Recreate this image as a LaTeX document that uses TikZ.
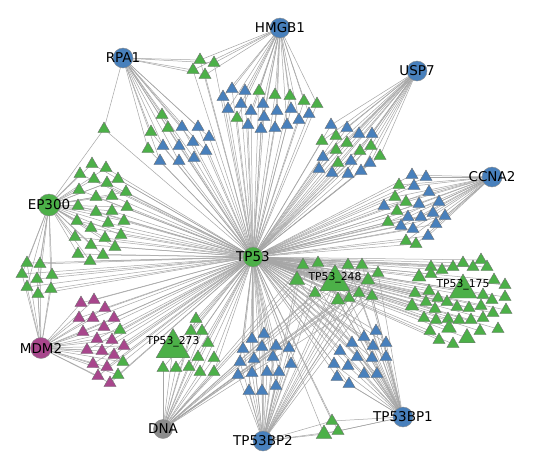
\documentclass[tikz,border=0pt]{standalone}
\usepackage{fontspec}
\setmainfont{DejaVu Sans}
\usetikzlibrary{shapes.geometric,backgrounds}
\definecolor{tg}{RGB}{76,176,72}
\definecolor{tb}{RGB}{72,128,188}
\definecolor{tm}{RGB}{168,70,140}
\definecolor{tgr}{RGB}{140,140,140}
\tikzset{
  edge/.style={draw=black!35, line width=0.5pt},
  tri/.style={regular polygon, regular polygon sides=3, draw=black!55, line width=0.4pt, inner sep=0pt, minimum size=14pt},
  hub/.style={circle, draw=black!45, line width=0.4pt, minimum size=20pt, inner sep=0pt},
  hublabel/.style={font=\fontsize{13.5}{14}\selectfont, text=black, inner sep=0pt},
  biglabel/.style={font=\fontsize{10.8}{11}\selectfont, text=black, inner sep=0pt}
}
\begin{document}
\begin{tikzpicture}[x=1pt,y=-1pt]
\useasboundingbox (0,0) rectangle (540,464);
% hubs
\node[hub,fill=tb] (RPA1) at (123,58) {};
\node[hub,fill=tb] (HMGB1) at (280,28) {};
\node[hub,fill=tb] (USP7) at (417,71) {};
\node[hub,fill=tb] (CCNA2) at (492,177) {};
\node[hub,fill=tg,minimum size=22pt] (EP300) at (49,205) {};
\node[hub,fill=tg] (TP53) at (253,257) {};
\node[hub,fill=tm,minimum size=21pt] (MDM2) at (41,348) {};
\node[hub,fill=tgr,minimum size=19pt] (DNA) at (163,429) {};
\node[hub,fill=tb] (TP53BP2) at (263,441) {};
\node[hub,fill=tb] (TP53BP1) at (403,417) {};
% cluster A (RPA1-HMGB1)
\foreach \x/\y/\c [count=\i] in {200/60/tg,214/63/tg,193/70/tg,205/75/tg}
  \node[tri,fill=\c] (A\i) at (\x,\y) {};
% cluster B (HMGB1)
\foreach \x/\y/\c [count=\i] in {232/89/tb,245/91/tb,259/91/tg,223/97/tb,241/104/tb,263/104/tb,228/109/tb,251/111/tb,237/118/tg,248/125/tb,261/129/tb,264/117/tb,275/95/tg,290/96/tg,304/101/tg,317/104/tg,277/111/tb,291/109/tb,309/114/tb,299/120/tb,287/125/tb,275/128/tb}
  \node[tri,fill=\c] (B\i) at (\x,\y) {};
% cluster C (RPA1)
\foreach \x/\y/\c [count=\i] in {162/115/tg,151/132/tg,168/128/tg,182/127/tb,198/127/tb,209/137/tb,148/149/tg,163/146/tb,179/146/tb,193/142/tb,206/151/tb,160/161/tb,179/161/tb,194/158/tb}
  \node[tri,fill=\c] (C\i) at (\x,\y) {};
% lone triangle
\node[tri,fill=tg] (Z1) at (104,129) {};
% cluster D (EP300)
\foreach \x/\y [count=\i] in {92/164,106/168,80/174,94/179,107/183,118/179,79/190,96/197,112/196,126/192,78/206,96/212,112/211,127/207,77/221,91/228,108/223,124/221,75/237,91/245,105/238,115/247,121/235,78/254,90/261,103/255}
  \node[tri,fill=tg] (D\i) at (\x,\y) {};
% cluster E (left)
\foreach \x/\y [count=\i] in {27/263,40/264,22/274,37/279,52/275,27/287,38/294,51/289}
  \node[tri,fill=tg] (E\i) at (\x,\y) {};
% cluster F (MDM2)
\foreach \x/\y/\c [count=\i] in {81/303/tm,94/300/tm,105/308/tm,79/318/tm,93/318/tm,114/318/tm,83/332/tm,104/327/tm,97/339/tm,112/340/tm,87/350/tm,102/351/tm,114/355/tm,124/346/tm,93/364/tm,107/367/tm,98/376/tm,110/383/tm,120/330/tg,123/362/tg,118/375/tg}
  \node[tri,fill=\c] (F\i) at (\x,\y) {};
% cluster G (TP53_273)
\foreach \x/\y/\s [count=\i] in {173/348/39,196/319/14,191/331/14,202/331/14,208/343/14,198/357/14,214/358/14,163/368/14,176/368/14,189/367/14,200/372/14,214/372/14}
  \node[tri,fill=tg,minimum size=\s pt] (G\i) at (\x,\y) {};
% cluster H (TP53BP2)
\foreach \x/\y [count=\i] in {252/339,264/334,243/349,262/347,276/346,289/348,240/362,254/359,273/357,291/364,238/375,252/373,267/372,279/372,249/391,262/391,276/386}
  \node[tri,fill=tb] (H\i) at (\x,\y) {};
% cluster I (TP53BP1)
\foreach \x/\y [count=\i] in {376/331,364/337,386/343,352/343,373/346,340/351,357/357,372/358,386/357,334/364,348/366,364/374,377/374,337/377,349/384}
  \node[tri,fill=tb] (I\i) at (\x,\y) {};
% cluster J (bottom)
\foreach \x/\y/\s [count=\i] in {332/421/14,338/431/14,324/434/18}
  \node[tri,fill=tg,minimum size=\s pt] (J\i) at (\x,\y) {};
% cluster K (TP53_248)
\foreach \x/\y/\s [count=\i] in {335/282/35,297/280/18,338/300/16,368/280/16,303/265/14,318/263/14,348/265/14,362/265/14,378/273/14,315/293/14,349/298/14,359/293/14,372/296/14}
  \node[tri,fill=tg,minimum size=\s pt] (K\i) at (\x,\y) {};
% cluster L (TP53_175)
\foreach \x/\y/\s [count=\i] in {463/290/32,431/267/14,442/270/14,453/267/14,463/263/14,473/267/14,481/260/14,487/267/14,419/277/16,431/274/14,494/280/14,505/285/14,415/293/14,429/291/14,438/298/14,447/302/14,483/295/14,492/300/14,505/297/14,412/306/16,426/302/14,435/309/14,457/307/14,469/308/14,481/306/14,493/313/14,506/310/14,424/318/14,436/320/14,448/319/14,459/320/14,471/320/14,483/318/14,430/331/14,449/328/17,480/331/14,498/329/14,439/340/14,453/344/14,467/338/19}
  \node[tri,fill=tg,minimum size=\s pt] (L\i) at (\x,\y) {};
% cluster M (CCNA2)
\foreach \x/\y/\c [count=\i] in {412/175/tb,426/177/tb,399/185/tg,414/186/tb,429/192/tb,395/197/tg,406/202/tg,384/206/tb,419/204/tb,439/202/tb,397/211/tg,433/213/tb,445/216/tb,408/217/tb,421/217/tb,388/222/tg,401/226/tb,436/224/tb,413/229/tb,428/236/tb,406/241/tg,416/244/tg}
  \node[tri,fill=\c] (M\i) at (\x,\y) {};
% cluster N (USP7)
\foreach \x/\y/\c [count=\i] in {331/125/tb,347/128/tb,322/141/tg,336/136/tg,359/134/tb,372/134/tb,347/143/tg,371/146/tg,336/150/tg,360/151/tg,323/157/tb,351/161/tb,338/163/tg,380/156/tg,370/163/tb,319/169/tb,332/173/tb,348/174/tb,361/171/tb}
  \node[tri,fill=\c] (N\i) at (\x,\y) {};
% edges
\begin{pgfonlayer}{background}
  \fill[white] (0,0) rectangle (540,464);
  \foreach \i in {1,...,4} {\draw[edge] (RPA1.center) -- (A\i.center); \draw[edge] (HMGB1.center) -- (A\i.center); \draw[edge] (TP53.center) -- (A\i.center);}
  \foreach \i in {1,...,22} {\draw[edge] (HMGB1.center) -- (B\i.center); \draw[edge] (TP53.center) -- (B\i.center);}
  \foreach \i in {1,...,14} {\draw[edge] (RPA1.center) -- (C\i.center); \draw[edge] (TP53.center) -- (C\i.center);}
  \draw[edge] (RPA1.center) -- (Z1.center);
  \draw[edge] (EP300.center) -- (Z1.center);
  \draw[edge] (TP53.center) -- (Z1.center);
  \foreach \i in {1,...,26} {\draw[edge] (EP300.center) -- (D\i.center); \draw[edge] (TP53.center) -- (D\i.center);}
  \foreach \i in {1,...,8} {\draw[edge] (EP300.center) -- (E\i.center); \draw[edge] (MDM2.center) -- (E\i.center); \draw[edge] (TP53.center) -- (E\i.center);}
  \foreach \i in {1,...,21} {\draw[edge] (MDM2.center) -- (F\i.center); \draw[edge] (TP53.center) -- (F\i.center);}
  \foreach \i in {1,...,12} {\draw[edge] (DNA.center) -- (G\i.center); \draw[edge] (TP53.center) -- (G\i.center);}
  \foreach \i in {1,...,17} {\draw[edge] (TP53BP2.center) -- (H\i.center); \draw[edge] (TP53.center) -- (H\i.center);}
  \foreach \i in {1,...,15} {\draw[edge] (TP53BP1.center) -- (I\i.center); \draw[edge] (TP53.center) -- (I\i.center);}
  \foreach \i in {1,...,3} {\draw[edge] (TP53BP2.center) -- (J\i.center); \draw[edge] (TP53BP1.center) -- (J\i.center); \draw[edge] (TP53.center) -- (J\i.center);}
  \foreach \i in {1,...,13} {\draw[edge] (TP53.center) -- (K\i.center); \draw[edge] (DNA.center) -- (K\i.center); \draw[edge] (TP53BP2.center) -- (K\i.center); \draw[edge] (TP53BP1.center) -- (K\i.center);}
  \foreach \i in {1,...,40} {\draw[edge] (TP53.center) -- (L\i.center);}
  \foreach \i in {1,...,22} {\draw[edge] (CCNA2.center) -- (M\i.center); \draw[edge] (TP53.center) -- (M\i.center);}
  \foreach \i in {1,...,19} {\draw[edge] (USP7.center) -- (N\i.center); \draw[edge] (TP53.center) -- (N\i.center);}
\end{pgfonlayer}
% labels
\node[hublabel] (lRPA1) at (RPA1) {RPA1};
\node[hublabel] (lHMGB1) at (HMGB1) {HMGB1};
\node[hublabel] (lUSP7) at (USP7) {USP7};
\node[hublabel] (lCCNA2) at (CCNA2) {CCNA2};
\node[hublabel] (lEP300) at (EP300) {EP300};
\node[hublabel] (lTP53) at (TP53) {TP53};
\node[hublabel] (lMDM2) at (MDM2) {MDM2};
\node[hublabel] (lDNA) at (DNA) {DNA};
\node[hublabel] (lTP53BP2) at (TP53BP2) {TP53BP2};
\node[hublabel] (lTP53BP1) at (TP53BP1) {TP53BP1};
\node[biglabel] (l273) at (173,342) {TP53\_273};
\node[biglabel] (l248) at (335,278) {TP53\_248};
\node[biglabel] (l175) at (463,285) {TP53\_175};
\end{tikzpicture}
\end{document}
